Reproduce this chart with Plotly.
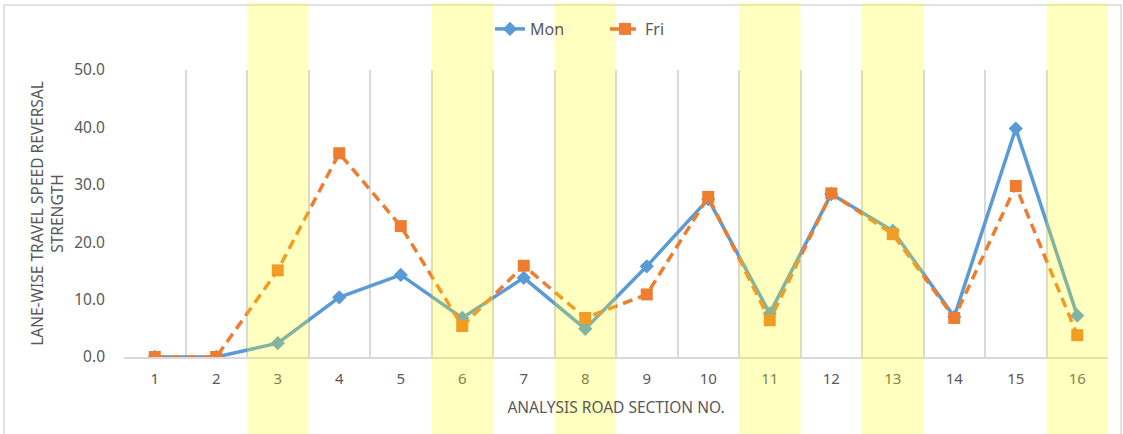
import plotly.graph_objects as go

sections = [str(i) for i in range(1, 17)]
mon = [0.0, 0.0, 2.4, 10.4, 14.3, 6.8, 13.8, 4.9, 15.8, 27.5, 7.6, 28.4, 22.0, 7.0, 39.8, 7.2]
fri = [0.0, 0.0, 15.1, 35.5, 22.8, 5.4, 15.9, 6.8, 10.9, 27.9, 6.4, 28.5, 21.4, 6.8, 29.8, 3.8]
highlight = ["3", "6", "8", "11", "13", "16"]
y_ticks = [0, 10, 20, 30, 40, 50]

W, H = 1123, 434
L, R, T, B = 124, 15, 70, 77
pw, ph = W - L - R, H - T - B

def px_x(x):
    return (x - L) / pw

def px_y(y):
    return (H - B - y) / ph

fig = go.Figure()
fig.add_trace(go.Scatter(
    x=sections, y=mon, name="Mon", mode="lines+markers",
    line=dict(color="#5B9BD5", width=3.5),
    marker=dict(symbol="diamond", size=11, color="#5B9BD5"),
))
fig.add_trace(go.Scatter(
    x=sections, y=fri, name="Fri", mode="lines+markers",
    line=dict(color="#ED7D31", width=3.5, dash="10px,6px"),
    marker=dict(symbol="square", size=12, color="#ED7D31"),
))

shapes = []
for h in highlight:
    i = sections.index(h)
    shapes.append(dict(
        type="rect", xref="x", yref="paper",
        x0=i - 0.5, x1=i + 0.5, y0=px_y(434), y1=px_y(3),
        fillcolor="rgba(255,255,0,0.25)", line=dict(width=0), layer="above",
    ))
# outer chart border
shapes.append(dict(
    type="rect", xref="paper", yref="paper",
    x0=px_x(4), x1=px_x(1121), y0=px_y(440), y1=px_y(5),
    line=dict(color="#D9D9D9", width=1.5), fillcolor="rgba(0,0,0,0)", layer="below",
))

font = "Noto Sans, Open Sans, sans-serif"
fig.update_layout(
    width=W, height=H,
    margin=dict(l=L, r=R, t=T, b=B, autoexpand=False),
    paper_bgcolor="white", plot_bgcolor="white",
    font=dict(family=font, color="#595959", size=14),
    shapes=shapes,
    showlegend=True,
    legend=dict(
        orientation="h", xref="container", yref="container",
        x=605 / W, xanchor="center", y=1 - 29 / H, yanchor="middle",
        font=dict(size=16, color="#595959"), bgcolor="rgba(0,0,0,0)",
        entrywidth=70,
    ),
    xaxis=dict(
        type="category", tickson="boundaries", range=[-0.5, 15.5], automargin=False,
        showgrid=True, gridcolor="#D9D9D9", gridwidth=1.5,
        showline=True, linecolor="#D9D9D9", linewidth=1.5,
        ticks="", tickfont=dict(size=15, color="#595959"), ticklabelstandoff=7,
        title=dict(text="ANALYSIS ROAD SECTION NO.", font=dict(size=15.5, color="#595959"), standoff=15),
    ),
    yaxis=dict(
        range=[0, 50], tickvals=y_ticks, tickformat=".1f", automargin=False,
        showgrid=False, zeroline=False, showline=False, ticks="",
        tickfont=dict(size=15.5, color="#595959"), ticklabelstandoff=18,
        title=dict(text="LANE-WISE TRAVEL SPEED REVERSAL<br>STRENGTH",
                   font=dict(size=15.5, color="#595959"), standoff=6),
    ),
)

fig.write_html("out.html", config={"displayModeBar": False},
               post_script="document.body.style.margin='0';")
